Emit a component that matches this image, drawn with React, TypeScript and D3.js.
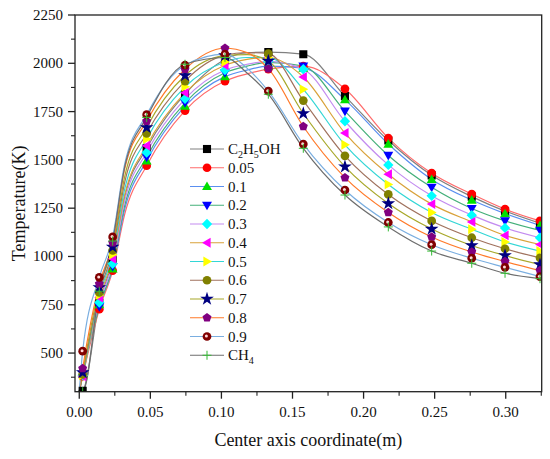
import { useEffect, useRef } from 'react';
import * as d3 from 'd3';

// axial positions (m) where the curves were read
const xs = [0, 0.0024, 0.0141, 0.0235, 0.032, 0.0474, 0.0744, 0.1025, 0.118, 0.133, 0.1576, 0.1869, 0.2174, 0.2479, 0.2761, 0.2995, 0.3241];
// positions where symbols are drawn
const markerXs = [0.0024, 0.0141, 0.0235, 0.0474, 0.0744, 0.1025, 0.133, 0.1576, 0.1869, 0.2174, 0.2479, 0.2761, 0.2995, 0.3241];

const c2h5oh = [300, 305, 760, 980, 1310, 1560, 1840, 2020, 2055, 2058, 2047, 1830, 1600, 1420, 1310, 1235, 1172];
const r005 = [300, 380, 727, 927, 1220, 1470, 1755, 1908, 1945, 1970, 1985, 1868, 1613, 1431, 1323, 1245, 1184];
const r01 = [300, 395, 750, 936, 1245, 1495, 1778, 1931, 1965, 1985, 1975, 1812, 1582, 1399, 1292, 1222, 1161];
const r02 = [300, 390, 740, 948, 1265, 1514, 1795, 1951, 1985, 2005, 1986, 1752, 1523, 1358, 1248, 1184, 1135];
const r03 = [300, 385, 762, 962, 1290, 1538, 1816, 1965, 1995, 2010, 1969, 1700, 1474, 1314, 1214, 1148, 1097];
const r04 = [300, 380, 788, 988, 1320, 1573, 1847, 1990, 2020, 2030, 1929, 1639, 1426, 1271, 1179, 1109, 1062];
const r05 = [300, 385, 800, 1010, 1350, 1608, 1878, 2007, 2030, 2030, 1865, 1578, 1373, 1228, 1141, 1075, 1028];
const r06 = [300, 390, 814, 1031, 1385, 1637, 1908, 2042, 2055, 2050, 1807, 1521, 1321, 1184, 1097, 1040, 993];
const r07 = [300, 400, 840, 1049, 1415, 1668, 1937, 2040, 2045, 2012, 1740, 1465, 1274, 1142, 1057, 1005, 958];
const r08 = [300, 420, 858, 1071, 1455, 1700, 1969, 2078, 2055, 1972, 1673, 1408, 1228, 1101, 1023, 974, 927];
const r09 = [300, 510, 892, 1101, 1480, 1734, 1990, 2047, 1975, 1856, 1582, 1344, 1176, 1061, 991, 944, 896];
const ch4 = [300, 300, 820, 1080, 1465, 1720, 1995, 2030, 1950, 1840, 1560, 1318, 1153, 1028, 965, 913, 885];

const seriesNames = ['C2H5OH', '0.05', '0.1', '0.2', '0.3', '0.4', '0.5', '0.6', '0.7', '0.8', '0.9', 'CH4'];
const seriesValues = [c2h5oh, r005, r01, r02, r03, r04, r05, r06, r07, r08, r09, ch4];
const lineColors = ['#808080', '#ff6b6b', '#5a8ff0', '#45b07a', '#c38cf0', '#d9a23a', '#33d6d6', '#a0725e', '#a8a82a', '#ff7a2a', '#7aaee0', '#6e6e6e'];
const markerColors = ['#000000', '#ff0000', '#00e000', '#0000ff', '#00ffff', '#ff00ff', '#ffff00', '#808000', '#000080', '#800080', '#800000', '#33bb33'];
const markerShapes = ['square', 'circle', 'triUp', 'triDown', 'diamond', 'triLeft', 'triRight', 'circle', 'star', 'pentagon', 'sphere', 'plus'];

const xTicks = [0, 0.05, 0.1, 0.15, 0.2, 0.25, 0.3];
const yTicks = [500, 750, 1000, 1250, 1500, 1750, 2000, 2250];

const FONT = "'Liberation Serif', 'Times New Roman', serif";

function shapePath(shape: string): string {
  const s = 4.5;
  switch (shape) {
    case 'square':
      return `M${-s * 0.9},${-s * 0.9}H${s * 0.9}V${s * 0.9}H${-s * 0.9}Z`;
    case 'triUp':
      return `M0,${-s * 1.1}L${s * 1.1},${s * 0.8}L${-s * 1.1},${s * 0.8}Z`;
    case 'triDown':
      return `M0,${s * 1.1}L${s * 1.1},${-s * 0.8}L${-s * 1.1},${-s * 0.8}Z`;
    case 'triLeft':
      return `M${-s * 1.1},0L${s * 0.8},${-s * 1.1}L${s * 0.8},${s * 1.1}Z`;
    case 'triRight':
      return `M${s * 1.1},0L${-s * 0.8},${-s * 1.1}L${-s * 0.8},${s * 1.1}Z`;
    case 'diamond':
      return `M0,${-s * 1.15}L${s * 1.15},0L0,${s * 1.15}L${-s * 1.15},0Z`;
    case 'pentagon': {
      const pts = d3.range(5).map((i) => {
        const a = -Math.PI / 2 + (i * 2 * Math.PI) / 5;
        return [Math.cos(a) * s * 1.05, Math.sin(a) * s * 1.05];
      });
      return 'M' + pts.map((p) => p.join(',')).join('L') + 'Z';
    }
    case 'star':
      return d3.symbol(d3.symbolStar, 58)() as string;
    case 'plus':
      return `M${-s},0H${s}M0,${-s}V${s}`;
    default:
      return d3.symbol(d3.symbolCircle, 60)() as string;
  }
}

function drawMarker(g: d3.Selection<SVGGElement, unknown, null, undefined>, x: number, y: number, i: number) {
  const shape = markerShapes[i];
  const color = markerColors[i];
  const p = g.append('path')
    .attr('d', shapePath(shape))
    .attr('transform', `translate(${x},${y})`);
  if (shape === 'plus') {
    p.attr('fill', 'none').attr('stroke', color).attr('stroke-width', 1);
  } else {
    p.attr('fill', color);
  }
  if (shape === 'sphere') {
    g.append('circle')
      .attr('cx', x - 0.6)
      .attr('cy', y - 0.4)
      .attr('r', 1.5)
      .attr('fill', '#ffd8d8');
  }
}

function addLabel(sel: d3.Selection<SVGTextElement, unknown, null, undefined>, name: string) {
  // chemical formulas get subscript digits
  if (/^0\./.test(name)) {
    sel.text(name);
    return;
  }
  const parts = name.match(/[A-Z][a-z]?|\d+/g) || [];
  let sub = false;
  parts.forEach((part) => {
    const isNum = /^\d+$/.test(part);
    const t = sel.append('tspan').text(part);
    if (isNum && !sub) {
      t.attr('font-size', 10).attr('dy', 4);
      sub = true;
    } else if (!isNum && sub) {
      t.attr('dy', -4);
      sub = false;
    } else if (isNum) {
      t.attr('font-size', 10);
    }
  });
}

export default function App() {
  const svgRef = useRef<SVGSVGElement>(null);

  useEffect(() => {
    document.body.style.margin = '0';
    if (!svgRef.current) return;
    const svg = d3.select(svgRef.current);
    svg.selectAll('*').remove();

    const left = 75;
    const right = 541.7;
    const top = 15;
    const bottom = 391.7;

    const x = d3.scaleLinear().domain([-0.003, 0.3253]).range([left, right]);
    const y = d3.scaleLinear().domain([300, 2250]).range([bottom, top]);

    svg.append('defs').append('clipPath').attr('id', 'plot-clip')
      .append('rect')
      .attr('x', left)
      .attr('y', top)
      .attr('width', right - left)
      .attr('height', bottom - top);

    const plot = svg.append('g').attr('clip-path', 'url(#plot-clip)');

    const line = d3.line<number>()
      .x((_, k) => x(xs[k]))
      .y((d) => y(d))
      .curve(d3.curveMonotoneX);

    seriesValues.forEach((vals, i) => {
      plot.append('path')
        .attr('d', line(vals))
        .attr('fill', 'none')
        .attr('stroke', lineColors[i])
        .attr('stroke-width', 1.2);
    });

    seriesValues.forEach((vals, i) => {
      const g = plot.append('g');
      xs.forEach((xv, k) => {
        if (!markerXs.includes(xv)) return;
        drawMarker(g, x(xv), y(vals[k]), i);
      });
    });

    // frame
    svg.append('rect')
      .attr('x', left)
      .attr('y', top)
      .attr('width', right - left)
      .attr('height', bottom - top)
      .attr('fill', 'none')
      .attr('stroke', '#222')
      .attr('stroke-width', 1.3);

    // x ticks
    const xMinor = d3.range(0.025, 0.326, 0.05);
    xTicks.forEach((t) => {
      svg.append('line')
        .attr('x1', x(t)).attr('x2', x(t))
        .attr('y1', bottom).attr('y2', bottom + 7)
        .attr('stroke', '#222').attr('stroke-width', 1.3);
      svg.append('text')
        .attr('x', x(t))
        .attr('y', bottom + 25)
        .attr('text-anchor', 'middle')
        .attr('font-family', FONT)
        .attr('font-size', 15)
        .attr('fill', '#111')
        .text(t.toFixed(2));
    });
    xMinor.forEach((t) => {
      svg.append('line')
        .attr('x1', x(t)).attr('x2', x(t))
        .attr('y1', bottom).attr('y2', bottom + 4)
        .attr('stroke', '#222').attr('stroke-width', 1.1);
    });

    // y ticks
    const yMinor = d3.range(375, 2250, 250);
    yTicks.forEach((t) => {
      svg.append('line')
        .attr('x1', left - 7).attr('x2', left)
        .attr('y1', y(t)).attr('y2', y(t))
        .attr('stroke', '#222').attr('stroke-width', 1.3);
      svg.append('text')
        .attr('x', left - 12)
        .attr('y', y(t) + 5)
        .attr('text-anchor', 'end')
        .attr('font-family', FONT)
        .attr('font-size', 15)
        .attr('fill', '#111')
        .text(t);
    });
    yMinor.forEach((t) => {
      svg.append('line')
        .attr('x1', left - 4).attr('x2', left)
        .attr('y1', y(t)).attr('y2', y(t))
        .attr('stroke', '#222').attr('stroke-width', 1.1);
    });

    // axis titles
    svg.append('text')
      .attr('x', (left + right) / 2)
      .attr('y', 446)
      .attr('text-anchor', 'middle')
      .attr('font-family', FONT)
      .attr('font-size', 18)
      .attr('fill', '#111')
      .text('Center axis coordinate(m)');

    svg.append('text')
      .attr('transform', `translate(25,${(top + bottom) / 2}) rotate(-90)`)
      .attr('text-anchor', 'middle')
      .attr('font-family', FONT)
      .attr('font-size', 18)
      .attr('fill', '#111')
      .text('Temperature(K)');

    // legend
    const legend = svg.append('g');
    seriesNames.forEach((name, i) => {
      const ly = 149 + i * 18.75;
      legend.append('line')
        .attr('x1', 190).attr('x2', 224)
        .attr('y1', ly).attr('y2', ly)
        .attr('stroke', lineColors[i])
        .attr('stroke-width', 1.2);
      drawMarker(legend, 207, ly, i);
      const t = legend.append('text')
        .attr('x', 228)
        .attr('y', ly + 5)
        .attr('font-family', FONT)
        .attr('font-size', 15)
        .attr('fill', '#111');
      addLabel(t, name);
    });
  }, []);

  return <svg ref={svgRef} width={550} height={459} style={{ display: 'block', background: '#fff' }} />;
}
